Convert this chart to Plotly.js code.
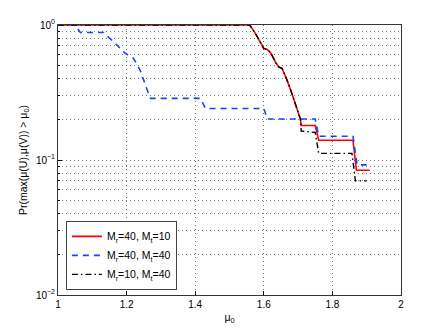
<!DOCTYPE html>
<html>
<head>
<meta charset="utf-8">
<script src="https://cdn.plot.ly/plotly-3.0.1.min.js"></script>
<style>
  html, body { margin: 0; padding: 0; background: #fff; }
  #chart { width: 442px; height: 332px; }
</style>
</head>
<body>
<div id="chart"></div>
<script>
// Mr=40, Mt=10 (red, solid)
const redX = [1.0, 1.559, 1.575, 1.59, 1.6, 1.61, 1.621, 1.634, 1.643, 1.653, 1.668, 1.682, 1.697, 1.707, 1.709, 1.75, 1.76, 1.86, 1.87, 1.909];
const redY = [1.0, 1.0, 0.87, 0.74, 0.67, 0.66, 0.617, 0.53, 0.49, 0.478, 0.39, 0.31, 0.235, 0.2, 0.18, 0.18, 0.14, 0.14, 0.084, 0.084];

// Mr=40, Mt=40 (blue, dashed)
const blueX = [1.0, 1.05, 1.065, 1.133, 1.167, 1.196, 1.22, 1.24, 1.26, 1.27, 1.415, 1.43, 1.6, 1.61, 1.75, 1.76, 1.86, 1.872, 1.9];
const blueY = [1.0, 1.0, 0.88, 0.88, 0.73, 0.617, 0.567, 0.46, 0.33, 0.286, 0.286, 0.241, 0.241, 0.201, 0.201, 0.15, 0.15, 0.092, 0.092];

// Mr=10, Mt=40 (black, dash-dot)
const blackX = [1.0, 1.559, 1.575, 1.59, 1.6, 1.61, 1.621, 1.634, 1.643, 1.653, 1.668, 1.682, 1.697, 1.707, 1.709, 1.75, 1.76, 1.857, 1.867, 1.9];
const blackY = [1.0, 1.0, 0.87, 0.74, 0.67, 0.66, 0.617, 0.53, 0.49, 0.478, 0.39, 0.31, 0.235, 0.2, 0.164, 0.16, 0.112, 0.112, 0.07, 0.07];

const seriesNames = ['M<sub>r</sub>=40, M<sub>t</sub>=10', 'M<sub>r</sub>=40, M<sub>t</sub>=40', 'M<sub>r</sub>=10, M<sub>t</sub>=40'];

const xTicks = [1, 1.2, 1.4, 1.6, 1.8, 2];
const xTickText = ['1', '1.2', '1.4', '1.6', '1.8', '2'];

const yTicks = [0.01, 0.1, 1];
const yTickText = ['10<sup>−2</sup>', '10<sup>−1</sup>', '10<sup>0</sup>'];

// minor log grid 2..9 in each decade
const yMinor = [];
[0.01, 0.1].forEach(function(dec) {
    for (let k = 2; k <= 9; k++) yMinor.push(dec * k);
});

const gridDots = '1px,3px';

const traces = [
    { x: redX, y: redY, name: seriesNames[0], type: 'scatter', mode: 'lines',
      line: { color: '#ff0000', width: 1.6 } },
    { x: blueX, y: blueY, name: seriesNames[1], type: 'scatter', mode: 'lines',
      line: { color: '#1f3fff', width: 1.6, dash: '6px,5px' } },
    { x: blackX, y: blackY, name: seriesNames[2], type: 'scatter', mode: 'lines',
      line: { color: '#000000', width: 1.4, dash: '6px,3px,1.5px,3px' } }
];

const layout = {
    width: 442,
    height: 332,
    margin: { l: 58, r: 41, t: 25, b: 37 },
    paper_bgcolor: '#ffffff',
    plot_bgcolor: '#ffffff',
    font: { family: 'Liberation Sans, Arial, sans-serif', size: 10, color: '#000' },
    showlegend: true,
    legend: {
        x: 0.023, y: 0.019, xanchor: 'left', yanchor: 'bottom',
        bgcolor: '#ffffff', bordercolor: '#444', borderwidth: 1,
        font: { size: 10.5 }, tracegroupgap: 2
    },
    xaxis: {
        range: [1, 2],
        tickvals: xTicks, ticktext: xTickText,
        ticks: 'inside', ticklen: 4, tickcolor: '#000',
        showline: true, linecolor: '#333', linewidth: 1, mirror: true,
        showgrid: true, gridcolor: '#777', griddash: gridDots, gridwidth: 1,
        zeroline: false,
        title: { text: 'μ<sub>0</sub>', standoff: 4, font: { size: 10.5 } }
    },
    yaxis: {
        type: 'log',
        range: [-2, 0],
        tickvals: yTicks, ticktext: yTickText,
        ticks: 'inside', ticklen: 4, tickcolor: '#000',
        showline: true, linecolor: '#333', linewidth: 1, mirror: true,
        showgrid: true, gridcolor: '#777', griddash: gridDots, gridwidth: 1,
        minor: {
            tickmode: 'array', tickvals: yMinor,
            ticks: 'inside', ticklen: 2, tickcolor: '#000',
            showgrid: true, gridcolor: '#777', griddash: gridDots, gridwidth: 1
        },
        zeroline: false,
        title: { text: 'Pr(max(μ(U),μ(V)) > μ<sub>0</sub>)', standoff: 6, font: { size: 10.5 } }
    }
};

Plotly.newPlot('chart', traces, layout, { displayModeBar: false, staticPlot: true });
</script>
</body>
</html>
